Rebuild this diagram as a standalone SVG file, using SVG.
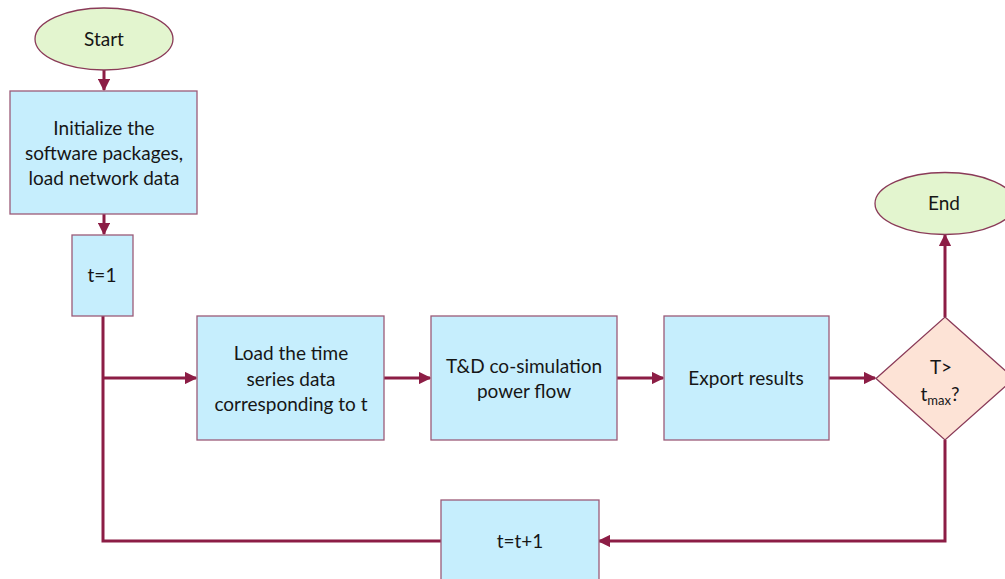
<svg xmlns="http://www.w3.org/2000/svg" width="1005" height="579" viewBox="0 0 1005 579">
  <defs>
    <marker id="arrow" viewBox="0 0 10 10" refX="9" refY="5" markerWidth="4.2" markerHeight="4.2" orient="auto" markerUnits="strokeWidth">
      <path d="M0,0 L10,5 L0,10 z" fill="#8c1d45"/>
    </marker>
    <style>
      .box { fill: #c6eefd; stroke: #9b5b78; stroke-width: 1.3; }
      .term { fill: #e3f5cf; stroke: #8a3a58; stroke-width: 1.3; }
      .dec { fill: #fde3d6; stroke: #8a3a58; stroke-width: 1.3; }
      .lbl { font-family: Lato, "Liberation Sans", sans-serif; font-size: 19px; fill: #161616; text-anchor: middle; }
      .wire { fill: none; stroke: #8c1d45; stroke-width: 3; }
    </style>
  </defs>
  <rect width="1005" height="579" fill="#ffffff"/>

  <g id="connectors">
    <line class="wire" x1="104" y1="70" x2="104" y2="90" marker-end="url(#arrow)"/>
    <line class="wire" x1="104" y1="214" x2="104" y2="234" marker-end="url(#arrow)"/>
    <polyline class="wire" points="103,316 103,541 441,541"/>
    <line class="wire" x1="103" y1="378" x2="196" y2="378" marker-end="url(#arrow)"/>
    <line class="wire" x1="384" y1="378" x2="430" y2="378" marker-end="url(#arrow)"/>
    <line class="wire" x1="617" y1="378" x2="663" y2="378" marker-end="url(#arrow)"/>
    <line class="wire" x1="829" y1="378" x2="875" y2="378" marker-end="url(#arrow)"/>
    <line class="wire" x1="945" y1="317" x2="945" y2="235" marker-end="url(#arrow)"/>
    <polyline class="wire" points="945,440 945,541 599,541" marker-end="url(#arrow)"/>
  </g>

  <g id="start">
    <ellipse class="term" cx="104" cy="39" rx="69" ry="31"/>
    <text class="lbl" x="104" y="46">Start</text>
  </g>

  <g id="init">
    <rect class="box" x="10" y="91" width="187" height="123"/>
    <text class="lbl" x="104" y="135">Initialize the</text>
    <text class="lbl" x="104" y="160">software packages,</text>
    <text class="lbl" x="104" y="185">load network data</text>
  </g>

  <g id="t-init">
    <rect class="box" x="72" y="235" width="61" height="81"/>
    <text class="lbl" x="102" y="282">t=1</text>
  </g>

  <g id="load-series">
    <rect class="box" x="197" y="316" width="187" height="124"/>
    <text class="lbl" x="291" y="360">Load the time</text>
    <text class="lbl" x="291" y="386">series data</text>
    <text class="lbl" x="291" y="411">corresponding to t</text>
  </g>

  <g id="cosim">
    <rect class="box" x="431" y="316" width="186" height="124"/>
    <text class="lbl" x="524" y="373">T&amp;D co-simulation</text>
    <text class="lbl" x="524" y="398">power flow</text>
  </g>

  <g id="export">
    <rect class="box" x="664" y="316" width="165" height="124"/>
    <text class="lbl" x="746" y="385">Export results</text>
  </g>

  <g id="check">
    <polygon class="dec" points="945,317 1014,378.5 945,440 876,378.5"/>
    <text class="lbl" x="941" y="374">T&gt;</text>
    <text class="lbl" x="940" y="401">t<tspan font-size="13" dy="4">max</tspan><tspan dy="-4">?</tspan></text>
  </g>

  <g id="end">
    <ellipse class="term" cx="945" cy="203.5" rx="70" ry="31"/>
    <text class="lbl" x="944" y="210">End</text>
  </g>

  <g id="t-step">
    <rect class="box" x="441" y="500" width="158" height="90"/>
    <text class="lbl" x="520" y="548">t=t+1</text>
  </g>
</svg>
